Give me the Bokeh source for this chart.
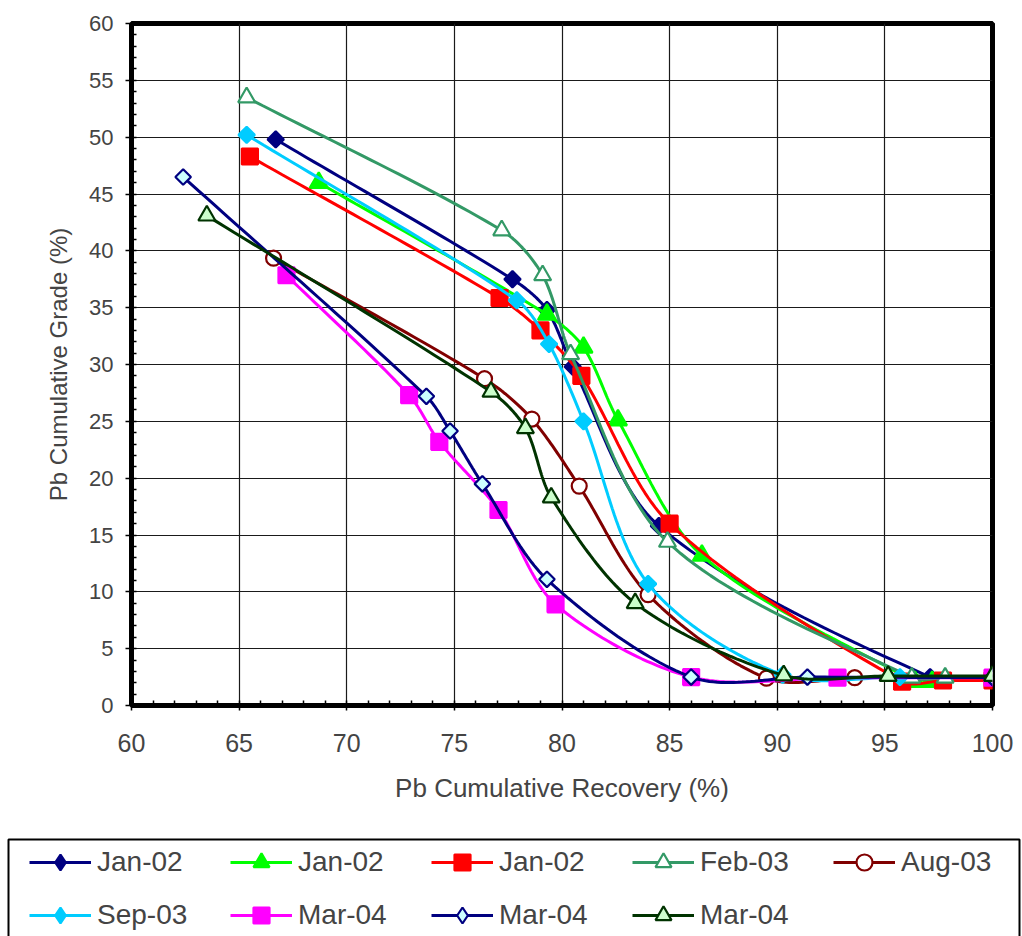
import numpy as np
from bokeh.plotting import figure
from bokeh.models import Range1d, SingleIntervalTicker, Legend, LegendItem
from bokeh.embed import file_html
from bokeh.resources import INLINE

# Pb cumulative recovery (%) and cumulative grade (%) per survey
jan02_a_rec = [66.7, 77.7, 79.3, 80.5, 84.5, 97.1, 100.0]
jan02_a_grade = [49.8, 37.5, 34.8, 29.8, 15.8, 2.5, 2.5]

jan02_b_rec = [68.7, 79.3, 81.0, 82.6, 86.5, 96.4, 97.2]
jan02_b_grade = [46.0, 34.4, 31.5, 25.1, 13.2, 2.1, 2.1]

jan02_c_rec = [65.5, 77.1, 79.0, 80.9, 85.0, 95.8, 97.7, 100.0]
jan02_c_grade = [48.3, 35.85, 33.0, 29.0, 16.0, 2.1, 2.2, 2.2]

feb03_rec = [65.35, 77.2, 79.1, 80.4, 84.9, 96.25, 97.8]
feb03_grade = [53.5, 41.8, 37.85, 30.9, 14.4, 2.45, 2.45]

aug03_rec = [66.6, 76.4, 78.6, 80.8, 84.0, 89.5, 93.6]
aug03_grade = [39.35, 28.75, 25.2, 19.3, 9.75, 2.4, 2.45]

sep03_rec = [65.35, 77.9, 79.4, 81.0, 84.0, 90.25, 95.7]
sep03_grade = [50.2, 35.65, 31.8, 25.0, 10.7, 2.7, 2.5]

mar04_a_rec = [67.2, 72.9, 74.3, 77.05, 79.7, 86.0, 92.8, 100.0]
mar04_a_grade = [37.85, 27.3, 23.2, 17.2, 8.9, 2.5, 2.45, 2.45]

mar04_b_rec = [62.4, 73.7, 74.8, 76.3, 79.3, 86.0, 91.4, 100.0]
mar04_b_grade = [46.5, 27.2, 24.15, 19.5, 11.1, 2.5, 2.5, 2.45]

mar04_c_rec = [63.5, 76.7, 78.3, 79.5, 83.4, 90.3, 95.15, 100.0]
mar04_c_grade = [43.1, 27.6, 24.4, 18.3, 9.0, 2.65, 2.6, 2.6]

labels = ["Jan-02", "Jan-02", "Jan-02", "Feb-03", "Aug-03",
          "Sep-03", "Mar-04", "Mar-04", "Mar-04"]

FONT = "Liberation Sans"
TILT = np.pi / 4  # squares turned on their corner read as diamonds

# (label, rec, grade, line colour, marker, size, angle, fill colour, legend marker)
series = [
    (labels[0], jan02_a_rec, jan02_a_grade, "#000080", "square", 11.5, TILT, "#000080", "diamond"),
    (labels[1], jan02_b_rec, jan02_b_grade, "#00FF00", "triangle", 18, 0.0, "#00FF00", "triangle"),
    (labels[2], jan02_c_rec, jan02_c_grade, "#FF0000", "square", 16, 0.0, "#FF0000", "square"),
    (labels[3], feb03_rec, feb03_grade, "#339966", "triangle", 17, 0.0, "#FFFFFF", "triangle"),
    (labels[4], aug03_rec, aug03_grade, "#800000", "circle", 15, 0.0, "#FFFFFF", "circle"),
    (labels[5], sep03_rec, sep03_grade, "#00CCFF", "square", 11.5, TILT, "#00CCFF", "diamond"),
    (labels[6], mar04_a_rec, mar04_a_grade, "#FF00FF", "square", 16, 0.0, "#FF00FF", "square"),
    (labels[7], mar04_b_rec, mar04_b_grade, "#000080", "square", 11, TILT, "#CCFFFF", "diamond"),
    (labels[8], mar04_c_rec, mar04_c_grade, "#003300", "triangle", 17, 0.0, "#CCFFCC", "triangle"),
]

# pixels per data unit of the plot frame, so the smoothing acts on screen geometry
SX, SY = 861.0 / 40.0, 682.0 / 60.0


def smooth(xs, ys, n=30, k=0.3):
    """Bezier curve through every point; handles follow the neighbour chord."""
    pts = np.column_stack([(np.asarray(xs) - 60.0) * SX, np.asarray(ys) * SY])
    m = len(pts)
    dirs = np.zeros_like(pts)
    for i in range(m):
        a = pts[max(i - 1, 0)]
        b = pts[min(i + 1, m - 1)]
        d = b - a
        dirs[i] = d / (np.hypot(*d) or 1.0)
    t = np.linspace(0, 1, n)[:, None]
    segs = []
    for i in range(m - 1):
        p1, p2 = pts[i], pts[i + 1]
        L = np.hypot(*(p2 - p1))
        c1 = p1 + dirs[i] * L * k
        c2 = p2 - dirs[i + 1] * L * k
        segs.append(((1 - t) ** 3) * p1 + 3 * ((1 - t) ** 2) * t * c1
                    + 3 * (1 - t) * t ** 2 * c2 + t ** 3 * p2)
    out = np.vstack(segs)
    return out[:, 0] / SX + 60.0, out[:, 1] / SY


p = figure(width=1022, height=810, x_range=Range1d(60, 100), y_range=Range1d(0, 60),
           output_backend="svg", toolbar_location=None,
           min_border_left=131, min_border_right=30, min_border_top=23,
           min_border_bottom=105)
p.background_fill_color = "white"
p.border_fill_color = "white"
p.outline_line_color = "black"
p.outline_line_width = 5

for ax, title in ((p.xaxis[0], "Pb Cumulative Recovery (%)"),
                  (p.yaxis[0], "Pb Cumulative Grade (%)")):
    ax.ticker = SingleIntervalTicker(interval=5, num_minor_ticks=5)
    ax.axis_label = title
    ax.axis_label_text_font = FONT
    ax.axis_label_text_font_style = "normal"
    ax.major_label_text_font = FONT
    ax.axis_line_width = 5
    ax.axis_line_color = "black"
    ax.major_tick_in = 0
    ax.major_tick_line_width = 1.5
    ax.minor_tick_in = 5
    ax.minor_tick_out = 0
    ax.minor_tick_line_width = 1.5
    ax.minor_tick_line_color = "black"

p.xaxis.major_tick_out = 5
p.yaxis.major_tick_out = 6
p.xaxis.major_label_text_font_size = "25px"
p.yaxis.major_label_text_font_size = "22px"
p.xaxis.axis_label_text_font_size = "26px"
p.yaxis.axis_label_text_font_size = "24px"
p.xaxis.major_label_standoff = 23
p.xaxis.axis_label_standoff = 18
p.yaxis.major_label_standoff = 12
p.yaxis.axis_label_standoff = 14

for g in (p.xgrid[0], p.ygrid[0]):
    g.ticker = SingleIntervalTicker(interval=5)
    g.grid_line_color = "#1a1a1a"
    g.grid_line_width = 1.2

for name, xs, ys, col, mk, sz, ang, fill, lmk in series:
    sx, sy = smooth(xs, ys)
    p.line(sx, sy, line_color=col, line_width=3)
    p.scatter(xs, ys, marker=mk, size=sz, angle=ang, line_color=col,
              fill_color=fill, line_width=2.2)

# legend panel beneath the chart (its own canvas, pixel-like ranges)
lf = figure(width=1022, height=126, x_range=Range1d(0, 1022), y_range=Range1d(0, 126),
            output_backend="svg", toolbar_location=None,
            x_axis_location=None, y_axis_location=None, min_border=0)
lf.grid.visible = False
lf.outline_line_color = None
lf.background_fill_color = "white"
lf.border_fill_color = "white"
lf.quad(left=[8], right=[1019], bottom=[-10], top=[97], fill_color=None,
        line_color="black", line_width=2)

items = []
for name, xs, ys, col, mk, sz, ang, fill, lmk in series:
    # renderers only carry the styling shown in the legend; nothing is plotted
    rl = lf.line([np.nan], [np.nan], line_color=col, line_width=3)
    rm = lf.scatter([np.nan], [np.nan], marker=lmk, size=sz, line_color=col,
                    fill_color=fill, line_width=2.2)
    items.append(LegendItem(label=name, renderers=[rl, rm]))

# the legend fills column by column; order the items so rows read left to right
ncols, nrows = 5, 2
ordered = []
for c in range(ncols):
    for r in range(nrows):
        idx = r * ncols + c
        if idx < len(items):
            ordered.append(items[idx])

legend = Legend(items=ordered, ncols=ncols, location=(29, 1), glyph_width=62,
                glyph_height=40, label_height=40, label_width=120, label_standoff=6,
                spacing=13, padding=0, border_line_color=None, background_fill_alpha=0,
                label_text_font=FONT, label_text_font_size="28px")
lf.add_layout(legend)

open("out.html", "w").write(file_html((p, lf), INLINE))
